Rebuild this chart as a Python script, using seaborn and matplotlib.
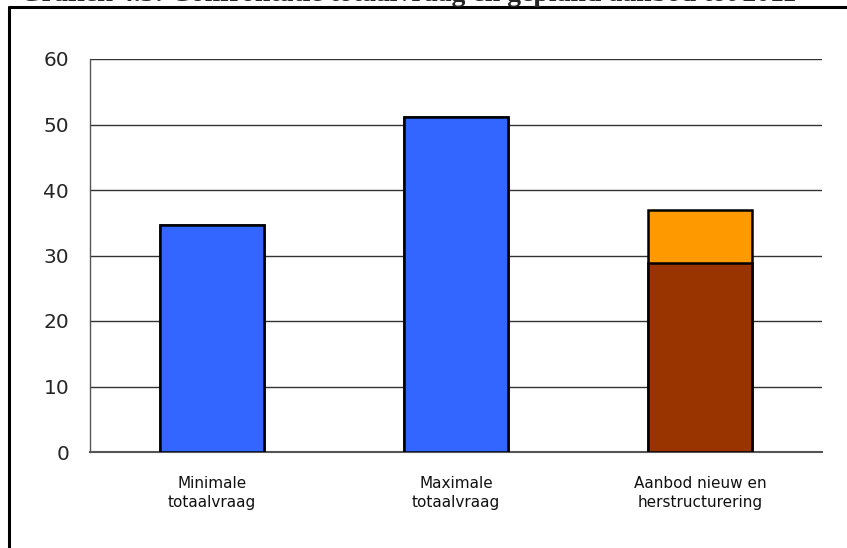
import numpy as np
import pandas as pd
import matplotlib
matplotlib.use("Agg")
import matplotlib.pyplot as plt
import seaborn as sns
from matplotlib.lines import Line2D

# ================================
# Data
# ================================
categories = ["Minimale\ntotaalvraag", "Maximale\ntotaalvraag", "Aanbod nieuw en\nherstructurering"]
base_values = [34.7, 51.2, 28.8]     # onderste deel (blauw / bruin)
extra_values = [0.0, 0.0, 8.2]       # bovenste deel (oranje)
yticks = [0, 10, 20, 30, 40, 50, 60]
title = "Grafiek 4.3: Confrontatie totaalvraag en gepland aanbod tot 2011"

blue = "#3366FF"
brown = "#993300"
orange = "#FF9900"

df = pd.DataFrame({"cat": categories, "base": base_values, "extra": extra_values})
df["total"] = df["base"] + df["extra"]

sns.set_style("white")
plt.rcParams["font.family"] = ["DejaVu Sans"]

W, H = 847, 548
fig = plt.figure(figsize=(W / 100, H / 100), dpi=100)

# axes in pixel coordinates
ax_left, ax_right, ax_top, ax_bottom = 90, 822, 59, 452
ax = fig.add_axes([ax_left / W, (H - ax_bottom) / H, (ax_right - ax_left) / W, (ax_bottom - ax_top) / H])

# totaal (oranje bovenste deel), daarna onderste deel erover
sns.barplot(data=df, x="cat", y="total", hue="cat", palette=[blue, blue, orange], saturation=1,
            width=0.43, edgecolor="black", linewidth=1.8, legend=False, ax=ax, zorder=3)
sns.barplot(data=df, x="cat", y="base", hue="cat", palette=[blue, blue, brown], saturation=1,
            width=0.43, edgecolor="black", linewidth=1.8, legend=False, ax=ax, zorder=4)

ax.set_ylim(0, 60)
ax.set_xlim(-0.5, 2.5)
ax.set_yticks(yticks)
ax.set_yticklabels([str(v) for v in yticks], fontsize=14.5)
ax.yaxis.grid(True, color="#333333", linewidth=1.0, zorder=0)
ax.set_axisbelow(True)

# x ticks op de grenzen van de categorieën, labels in het midden
ax.set_xticks([0, 1, 2])
ax.set_xticklabels(categories, fontsize=11, color="#111111", linespacing=1.35)
ax.set_xticks([-0.5, 0.5, 1.5, 2.5], minor=True)
ax.tick_params(axis="x", which="major", length=0, pad=17)
ax.tick_params(axis="x", which="minor", length=6, width=1.2, color="#333333", direction="out")
ax.tick_params(axis="y", length=7, width=1.0, color="#555555", direction="out", pad=8)

ax.set_xlabel("")
ax.set_ylabel("")
for s in ["top", "right"]:
    ax.spines[s].set_visible(False)
ax.spines["left"].set_color("#555555")
ax.spines["bottom"].set_color("#555555")
ax.spines["left"].set_linewidth(1.0)
ax.spines["bottom"].set_linewidth(1.5)

# kader rond de grafiek (alleen boven en links zichtbaar)
fig.add_artist(Line2D([9 / W, 1], [1 - 6.5 / H, 1 - 6.5 / H], color="black", linewidth=2.2,
                      transform=fig.transFigure))
fig.add_artist(Line2D([9 / W, 9 / W], [0, 1 - 6.5 / H], color="black", linewidth=2.2,
                      transform=fig.transFigure))

# titel, grotendeels buiten beeld (zoals in het origineel)
fig.text(20 / W, 1 - 1.2 / H, title, ha="left", va="baseline", fontsize=20, fontweight="bold",
         family=["Liberation Serif"])

fig.savefig("out.png", dpi=100)
